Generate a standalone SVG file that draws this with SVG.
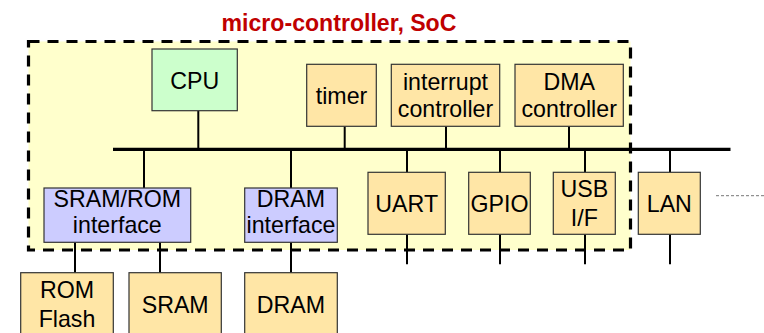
<svg xmlns="http://www.w3.org/2000/svg" width="764" height="333" viewBox="0 0 764 333">
<style>
  .box { fill: #FFE6A6; stroke: #333333; stroke-width: 1.2; }
  .cpu { fill: #CCFFCC; stroke: #333333; stroke-width: 1.2; }
  .ifc { fill: #CCCCFF; stroke: #333333; stroke-width: 1.2; }
  .lbl { font-family: "Liberation Sans", Arial, sans-serif; font-size: 23.2px; fill: #000000; text-anchor: middle; }
  .title { font-family: "Liberation Sans", Arial, sans-serif; font-size: 23.1px; font-weight: bold; fill: #C00000; text-anchor: middle; }
  .ln { stroke: #000000; stroke-width: 2; fill: none; }
  .bus { stroke: #000000; stroke-width: 3.3; fill: none; }
</style>
<rect width="764" height="333" fill="#FFFFFF"/>
<g id="soc">
  <rect x="28.5" y="41.5" width="602" height="208.5" fill="#FFFFCC" stroke="none"/>
  <text class="title" x="339" y="31">micro-controller, SoC</text>
</g>
<g id="connectors">
  <line class="bus" x1="113" y1="149.3" x2="730.5" y2="149.3"/>
  <line class="ln" x1="198.3" y1="110.7" x2="198.3" y2="149"/>
  <line class="ln" x1="344.7" y1="126.3" x2="344.7" y2="149"/>
  <line class="ln" x1="446" y1="126.3" x2="446" y2="149"/>
  <line class="ln" x1="569" y1="126.3" x2="569" y2="149"/>
  <line class="ln" x1="144" y1="149" x2="144" y2="188"/>
  <line class="ln" x1="291" y1="149" x2="291" y2="188"/>
  <line class="ln" x1="407" y1="149" x2="407" y2="172.3"/>
  <line class="ln" x1="500" y1="149" x2="500" y2="172.3"/>
  <line class="ln" x1="585" y1="149" x2="585" y2="172.3"/>
  <line class="ln" x1="670" y1="149" x2="670" y2="172.3"/>
  <line class="ln" x1="407" y1="234.3" x2="407" y2="264.3"/>
  <line class="ln" x1="500" y1="234.3" x2="500" y2="264.3"/>
  <line class="ln" x1="585" y1="234.3" x2="585" y2="264.3"/>
  <line class="ln" x1="670" y1="234.3" x2="670" y2="264.3"/>
  <line class="ln" x1="75" y1="242.3" x2="75" y2="272.7"/>
  <line class="ln" x1="160" y1="242.3" x2="160" y2="272.7"/>
  <line class="ln" x1="291" y1="242.3" x2="291" y2="272.7"/>
  <line x1="716" y1="195.7" x2="764" y2="195.7" stroke="#777777" stroke-width="1" stroke-dasharray="3 2"/>
</g>
<g id="soc-border">
  <rect x="28.5" y="41.5" width="602" height="208.5" fill="none" stroke="#000000" stroke-width="3.2" stroke-dasharray="11 8"/>
</g>
<g id="cpu">
  <rect class="cpu" x="152" y="49" width="85.3" height="61.7"/>
  <text class="lbl" x="194.7" y="89.3">CPU</text>
</g>
<g id="timer">
  <rect class="box" x="306.7" y="64.3" width="69.6" height="62"/>
  <text class="lbl" x="341.5" y="104">timer</text>
</g>
<g id="interrupt-controller">
  <rect class="box" x="391.3" y="64.3" width="108.4" height="62"/>
  <text class="lbl" x="445.5" y="90">interrupt</text>
  <text class="lbl" x="445.5" y="117.3">controller</text>
</g>
<g id="dma-controller">
  <rect class="box" x="515" y="64.3" width="108.3" height="62"/>
  <text class="lbl" x="569.2" y="90">DMA</text>
  <text class="lbl" x="569.2" y="117.3">controller</text>
</g>
<g id="sram-rom-interface">
  <rect class="ifc" x="44" y="188" width="146.7" height="54.3"/>
  <text class="lbl" x="117.3" y="206.7">SRAM/ROM</text>
  <text class="lbl" x="117.3" y="233.3">interface</text>
</g>
<g id="dram-interface">
  <rect class="ifc" x="244.7" y="188" width="92.6" height="54.3"/>
  <text class="lbl" x="291" y="206.7">DRAM</text>
  <text class="lbl" x="291" y="233.3">interface</text>
</g>
<g id="uart">
  <rect class="box" x="368" y="172.3" width="77.3" height="62"/>
  <text class="lbl" x="406.7" y="211.7">UART</text>
</g>
<g id="gpio">
  <rect class="box" x="468.7" y="172.3" width="61.6" height="62"/>
  <text class="lbl" x="499.5" y="211.7">GPIO</text>
</g>
<g id="usb-if">
  <rect class="box" x="553.3" y="172.3" width="62" height="62"/>
  <text class="lbl" x="584.3" y="197.3">USB</text>
  <text class="lbl" x="584.3" y="225.7">I/F</text>
</g>
<g id="lan">
  <rect class="box" x="638.3" y="172.3" width="62" height="62"/>
  <text class="lbl" x="669.3" y="211.7">LAN</text>
</g>
<g id="rom-flash">
  <rect class="box" x="20.7" y="272.7" width="92.6" height="70"/>
  <text class="lbl" x="67" y="297.7">ROM</text>
  <text class="lbl" x="67" y="326.7">Flash</text>
</g>
<g id="sram">
  <rect class="box" x="129" y="272.7" width="92.3" height="70"/>
  <text class="lbl" x="175.2" y="313.3">SRAM</text>
</g>
<g id="dram">
  <rect class="box" x="244.7" y="272.7" width="92.6" height="70"/>
  <text class="lbl" x="291" y="313.3">DRAM</text>
</g>
</svg>
